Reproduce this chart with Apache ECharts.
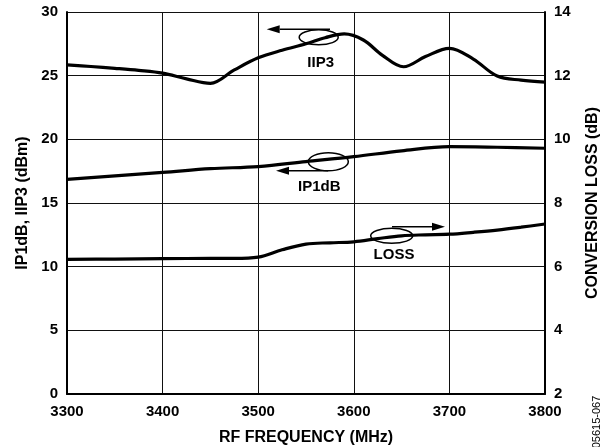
<!DOCTYPE html>
<html>
<head>
<meta charset="utf-8">
<script src="https://cdn.jsdelivr.net/npm/echarts@6/dist/echarts.min.js"></script>
<style>
  html, body { margin: 0; padding: 0; background: #fff; }
  #chart { width: 607px; height: 447px; }
</style>
</head>
<body>
<div id="chart"></div>
<script>
// datos
const iip3Freq = [3300, 3325, 3350, 3375, 3400, 3425, 3450, 3475, 3500, 3525, 3550, 3570, 3590, 3610, 3630, 3652, 3675, 3700, 3725, 3750, 3775, 3800];
const iip3Vals = [25.84, 25.72, 25.58, 25.42, 25.2, 24.75, 24.4, 25.45, 26.4, 27.0, 27.5, 27.98, 28.28, 27.8, 26.6, 25.7, 26.5, 27.15, 26.3, 24.97, 24.65, 24.5];

const ip1dbFreq = [3300, 3400, 3450, 3500, 3550, 3600, 3650, 3700, 3750, 3800];
const ip1dbVals = [16.86, 17.4, 17.7, 17.86, 18.25, 18.64, 19.1, 19.43, 19.38, 19.3];

const lossFreq = [3300, 3350, 3400, 3450, 3475, 3500, 3525, 3550, 3575, 3600, 3625, 3650, 3675, 3700, 3725, 3750, 3775, 3800];
const lossVals = [6.23, 6.24, 6.25, 6.26, 6.26, 6.3, 6.53, 6.71, 6.75, 6.78, 6.88, 6.97, 7.0, 7.02, 7.08, 7.15, 7.24, 7.34];

const xTicks = [3300, 3400, 3500, 3600, 3700, 3800];
const leftTicks = [0, 5, 10, 15, 20, 25, 30];
const rightTicks = [2, 4, 6, 8, 10, 12, 14];

const FONT = '"Liberation Sans", Arial, sans-serif';
const pairs = (xs, ys) => xs.map((x, i) => [x, ys[i]]);

const chart = echarts.init(document.getElementById('chart'));

const labelStyle = { color: '#000', fontSize: 15, fontWeight: 'bold', fontFamily: FONT, formatter: v => String(v) };
const nameStyle = { color: '#000', fontSize: 16, fontWeight: 'bold', fontFamily: FONT };

function arrow(x1, x2, y) {
  // linea horizontal con punta en x2
  const dir = x2 > x1 ? 1 : -1;
  const headLen = 13, headW = 4;
  return [
    { type: 'line', shape: { x1: x1, y1: y, x2: x2 - dir * headLen, y2: y }, style: { stroke: '#000', lineWidth: 1.5 } },
    { type: 'polygon', shape: { points: [[x2, y], [x2 - dir * headLen, y - headW], [x2 - dir * headLen, y + headW]] }, style: { fill: '#000' } }
  ];
}

function ellipse(cx, cy, rx, ry) {
  return { type: 'ellipse', shape: { cx: cx, cy: cy, rx: rx, ry: ry }, style: { fill: null, stroke: '#000', lineWidth: 1.5 }, z: 10 };
}

function label(text, x, y) {
  return { type: 'text', x: x, y: y, style: { text: text, fill: '#000', font: 'bold 15px ' + FONT, align: 'center', verticalAlign: 'middle' }, z: 10 };
}

const lineSeries = (name, data, yIndex) => ({
  name: name,
  type: 'line',
  yAxisIndex: yIndex,
  data: data,
  smooth: 0.35,
  showSymbol: false,
  lineStyle: { color: '#000', width: 3.2 },
  silent: true
});

chart.setOption({
  animation: false,
  backgroundColor: '#fff',
  grid: { left: 67, right: 62, top: 12, bottom: 53, containLabel: false, outerBoundsMode: 'none' },
  xAxis: {
    type: 'value',
    min: xTicks[0],
    max: xTicks[xTicks.length - 1],
    interval: 100,
    name: 'RF FREQUENCY (MHz)',
    nameLocation: 'middle',
    nameGap: 36,
    nameTextStyle: nameStyle,
    axisLine: { show: true, lineStyle: { color: '#000', width: 2 } },
    axisTick: { show: false },
    axisLabel: Object.assign({ margin: 10 }, labelStyle),
    splitLine: { show: true, lineStyle: { color: '#111', width: 1 } }
  },
  yAxis: [
    {
      type: 'value',
      position: 'left',
      min: leftTicks[0],
      max: leftTicks[leftTicks.length - 1],
      interval: 5,
      name: 'IP1dB, IIP3 (dBm)',
      nameLocation: 'middle',
      nameGap: 35,
      nameTextStyle: nameStyle,
      axisLine: { show: true, lineStyle: { color: '#000', width: 2 } },
      axisTick: { show: false },
      axisLabel: Object.assign({ margin: 9 }, labelStyle),
      splitLine: { show: true, lineStyle: { color: '#111', width: 1 } }
    },
    {
      type: 'value',
      position: 'right',
      min: rightTicks[0],
      max: rightTicks[rightTicks.length - 1],
      interval: 2,
      name: 'CONVERSION LOSS (dB)',
      nameLocation: 'middle',
      nameGap: 40,
      nameTextStyle: nameStyle,
      axisLine: { show: true, lineStyle: { color: '#000', width: 2 } },
      axisTick: { show: false },
      axisLabel: Object.assign({ margin: 9 }, labelStyle),
      splitLine: { show: false }
    }
  ],
  series: [
    lineSeries('IIP3', pairs(iip3Freq, iip3Vals), 0),
    lineSeries('IP1dB', pairs(ip1dbFreq, ip1dbVals), 0),
    lineSeries('LOSS', pairs(lossFreq, lossVals), 1)
  ],
  graphic: [
    ellipse(318.7, 37.3, 19.5, 7.5),
    ...arrow(330, 266.7, 29.3),
    label('IIP3', 320.7, 63.3),
    ellipse(328.3, 161.7, 20, 9),
    ...arrow(328, 276, 170.7),
    label('IP1dB', 319.3, 186.7),
    ellipse(391.7, 235.8, 21, 7.5),
    ...arrow(392, 445, 226.7),
    label('LOSS', 394, 255),
    {
      type: 'text',
      x: 597, y: 422,
      rotation: Math.PI / 2,
      style: { text: '05615-067', fill: '#000', font: '11px ' + FONT, align: 'center', verticalAlign: 'middle' }
    }
  ]
});
</script>
</body>
</html>
